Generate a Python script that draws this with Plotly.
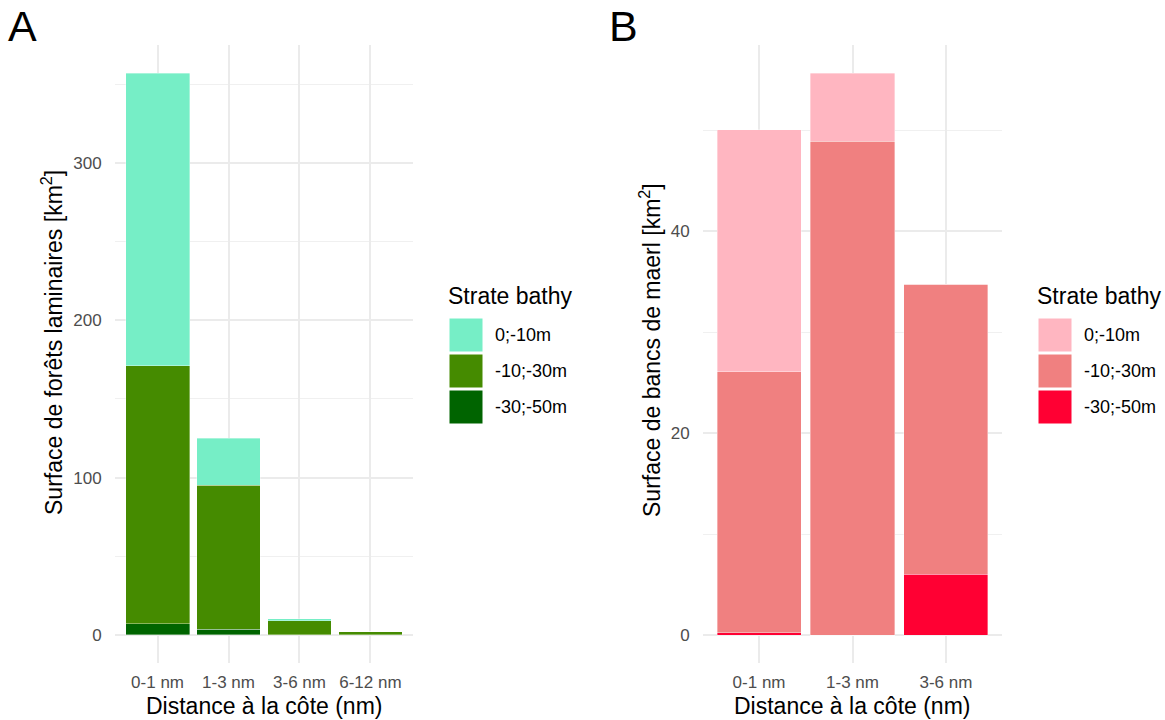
import plotly.graph_objects as go
from plotly.subplots import make_subplots

# ---------------- data ----------------
strata = ["0;-10m", "-10;-30m", "-30;-50m"]

dist_A = ["0-1 nm", "1-3 nm", "3-6 nm", "6-12 nm"]
laminaires_0_10 = [186.0, 30.0, 1.0, 0.0]
laminaires_10_30 = [164.0, 91.5, 9.0, 2.0]
laminaires_30_50 = [7.0, 3.5, 0.2, 0.0]

dist_B = ["0-1 nm", "1-3 nm", "3-6 nm"]
maerl_0_10 = [24.0, 6.7, 0.0]
maerl_10_30 = [25.8, 48.9, 28.75]
maerl_30_50 = [0.25, 0.0, 6.0]

colors_A = ["#76EEC6", "#458B00", "#006400"]
colors_B = ["#FFB6C1", "#F08080", "#FF0033"]

W, H = 1165, 720
FONT = "Liberation Sans, Arial, sans-serif"


def px(x):
    return x / W


def py(y):
    return 1 - y / H


fig = make_subplots(rows=1, cols=2)

series_A = [laminaires_0_10, laminaires_10_30, laminaires_30_50]
series_B = [maerl_0_10, maerl_10_30, maerl_30_50]

# stacking: first level on top -> add in reverse order
for i in reversed(range(3)):
    fig.add_trace(go.Bar(x=dist_A, y=series_A[i], name=strata[i], width=0.9,
                         marker=dict(color=colors_A[i], line=dict(color="rgba(255,255,255,0.6)", width=0.6)),
                         showlegend=False), row=1, col=1)
for i in reversed(range(3)):
    fig.add_trace(go.Bar(x=dist_B, y=series_B[i], name=strata[i], width=0.9,
                         marker=dict(color=colors_B[i], line=dict(color="rgba(255,255,255,0.6)", width=0.6)),
                         showlegend=False), row=1, col=2)

grid_major = "#EBEBEB"
tickfont = dict(family=FONT, size=17, color="#4D4D4D")

yd = [py(663), py(45)]
fig.update_layout(
    barmode="stack",
    width=W, height=H,
    margin=dict(l=0, r=0, t=0, b=0),
    paper_bgcolor="white", plot_bgcolor="white",
    font=dict(family=FONT),
    showlegend=False,
    xaxis=dict(domain=[px(115), px(413)], range=[-0.6, 3.6]),
    xaxis2=dict(domain=[px(703), px(1002)], range=[-0.6, 2.6]),
    yaxis=dict(domain=yd, range=[-17.8, 374.8], tickvals=[0, 100, 200, 300],
               minor=dict(tickvals=[50, 150, 250, 350], showgrid=True, gridcolor="#F0F0F0", gridwidth=1)),
    yaxis2=dict(domain=yd, range=[-2.77, 58.42], tickvals=[0, 20, 40],
                minor=dict(tickvals=[10, 30, 50], showgrid=True, gridcolor="#F0F0F0", gridwidth=1)),
)
fig.update_xaxes(showgrid=True, gridcolor=grid_major, gridwidth=1.8, zeroline=False, showline=False,
                 ticks="outside", ticklen=4, tickcolor="rgba(0,0,0,0)", tickfont=tickfont, automargin=False)
fig.update_yaxes(showgrid=True, gridcolor=grid_major, gridwidth=1.8, zeroline=False, showline=False,
                 ticks="outside", ticklen=9, tickcolor="rgba(0,0,0,0)", tickfont=tickfont, automargin=False)

ann = []
# panel tags
tag_font = dict(family=FONT, size=43, color="black")
ann.append(dict(text="A", x=px(6), y=py(26), xref="paper", yref="paper", xanchor="left", yanchor="middle",
                showarrow=False, font=tag_font))
ann.append(dict(text="B", x=px(607), y=py(26), xref="paper", yref="paper", xanchor="left", yanchor="middle",
                showarrow=False, font=tag_font))
# axis titles
title_font = dict(family=FONT, size=23, color="black")
ann.append(dict(text="Distance à la côte (nm)", x=px(264), y=py(706), xref="paper", yref="paper",
                xanchor="center", yanchor="middle", showarrow=False, font=title_font))
ann.append(dict(text="Distance à la côte (nm)", x=px(852), y=py(706), xref="paper", yref="paper",
                xanchor="center", yanchor="middle", showarrow=False, font=title_font))
ann.append(dict(text="Surface de forêts laminaires [km<sup>2</sup>]", x=px(52), y=py(343), xref="paper", yref="paper",
                xanchor="center", yanchor="middle", textangle=-90, showarrow=False, font=title_font))
ann.append(dict(text="Surface de bancs de maerl [km<sup>2</sup>]", x=px(650), y=py(350), xref="paper", yref="paper",
                xanchor="center", yanchor="middle", textangle=-90, showarrow=False, font=title_font))

# custom legends (ggplot style keys)
shapes = []
for x0, cols in [(449, colors_A), (1038, colors_B)]:
    ann.append(dict(text="Strate bathy", x=px(x0 - 3), y=py(296), xref="paper", yref="paper",
                    xanchor="left", yanchor="middle", showarrow=False, font=dict(family=FONT, size=23, color="black")))
    for k in range(3):
        top = 318 + 36 * k
        shapes.append(dict(type="rect", xref="paper", yref="paper", x0=px(x0), x1=px(x0 + 34),
                           y0=py(top + 34), y1=py(top), fillcolor=cols[k],
                           line=dict(color="white", width=1)))
        ann.append(dict(text=strata[k], x=px(x0 + 44), y=py(top + 17), xref="paper", yref="paper",
                        xanchor="left", yanchor="middle", showarrow=False,
                        font=dict(family=FONT, size=18, color="black")))

fig.update_layout(annotations=ann, shapes=shapes)
fig.write_html("out.html", config={"displayModeBar": False},
               post_script="document.body.style.margin='0';document.body.style.overflow='hidden';")
